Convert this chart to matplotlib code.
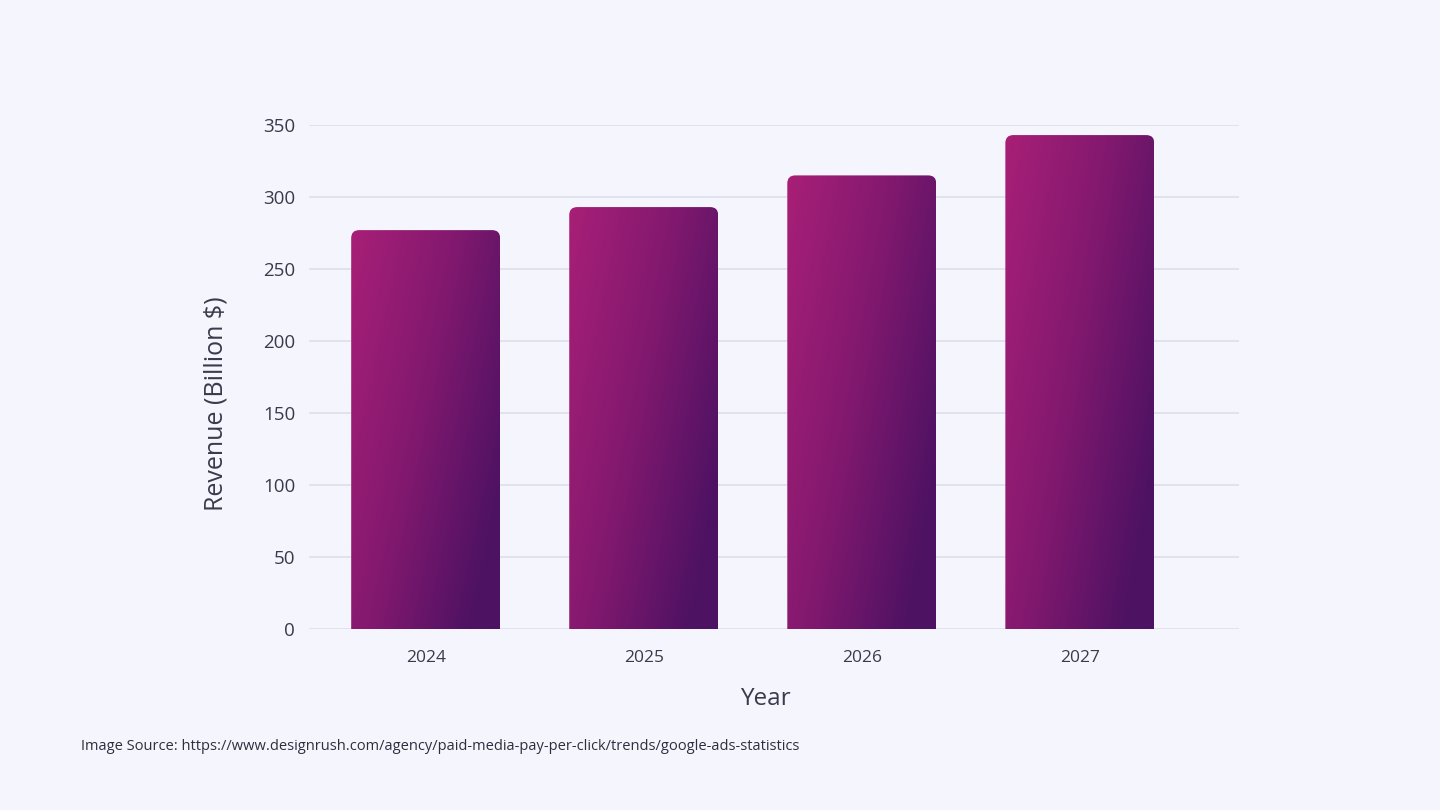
import matplotlib
matplotlib.use("Agg")
import matplotlib.pyplot as plt
import numpy as np
from matplotlib.colors import LinearSegmentedColormap
from matplotlib.patches import FancyBboxPatch

plt.rcParams["font.family"] = ["Open Sans", "DejaVu Sans"]

years = ["2024", "2025", "2026", "2027"]
revenue = [277, 293, 315, 343]
y_ticks = [0, 50, 100, 150, 200, 250, 300, 350]

BG = "#F5F5FD"
TEXT = "#3A3A4C"
GRID = "#DDDDE8"
grad = LinearSegmentedColormap.from_list("bar", ["#A81F77", "#83196F", "#4E1263"])

fig = plt.figure(figsize=(14.4, 8.1), dpi=100, facecolor=BG)
ax = fig.add_axes([309 / 1440, 1 - 629 / 810, 930 / 1440, 504 / 810])
ax.set_facecolor(BG)

for s in ax.spines.values():
    s.set_visible(False)
ax.set_yticks(y_ticks)
ax.set_yticklabels([str(t) for t in y_ticks])
ax.set_xticks(range(len(years)))
ax.set_xticklabels(years)
ax.tick_params(axis="both", length=0, colors=TEXT)
ax.tick_params(axis="y", labelsize=13.5, pad=10)
ax.tick_params(axis="x", labelsize=12.5, pad=15)
ax.grid(axis="y", color=GRID, lw=1.1)
ax.set_axisbelow(True)

width = 0.683
# rounding radius ~8px; px per unit: x 218, y 1.44
rx = 8 / 218
aspect = (8 / 1.44) / rx
gy, gx = np.mgrid[0:1:200j, 0:1:100j]
for i, v in enumerate(revenue):
    x0 = i - width / 2
    patch = FancyBboxPatch((x0, -20), width, v + 20,
                           boxstyle=f"round,pad=0,rounding_size={rx}",
                           mutation_aspect=aspect, fc="none", ec="none", zorder=2)
    ax.add_patch(patch)
    t = np.clip(0.72 * gx + 0.42 * gy, 0, 1)  # gy = 0 at top
    im = ax.imshow(t, cmap=grad, vmin=0, vmax=1, extent=(x0, x0 + width, 0, v),
                   origin="upper", aspect="auto", interpolation="bilinear", zorder=2)
    im.set_clip_path(patch)

ax.set_xlim(-0.535, 3.73)
ax.set_ylim(0, 350)

fig.text(765 / 1440, 1 - 699 / 810, "Year", ha="center", va="center",
         fontsize=17.5, color=TEXT)
fig.text(216 / 1440, 1 - 404 / 810, "Revenue (Billion $)", ha="center", va="center",
         rotation=90, fontsize=18, color=TEXT)
fig.text(81 / 1440, 1 - 746 / 810,
         "Image Source: https://www.designrush.com/agency/paid-media-pay-per-click/trends/google-ads-statistics",
         ha="left", va="center", fontsize=10.5, color="#2E2E3E")

fig.savefig("out.png", dpi=100, facecolor=BG)
